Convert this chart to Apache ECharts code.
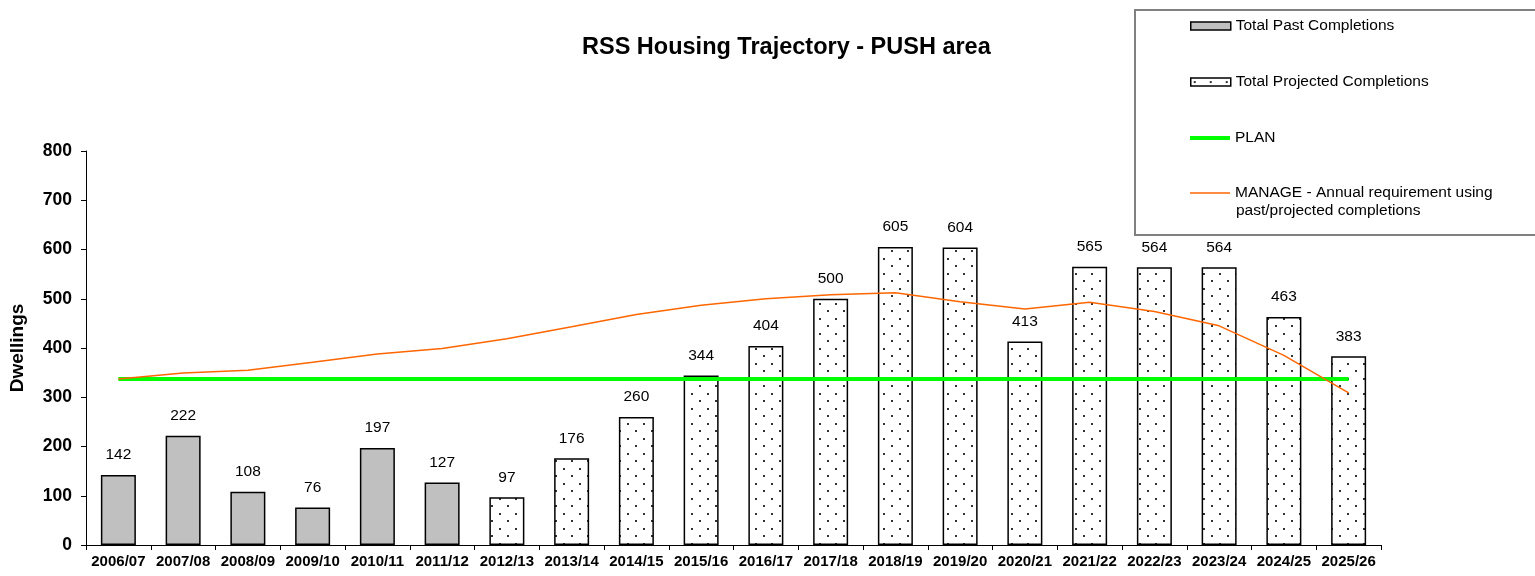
<!DOCTYPE html>
<html>
<head>
<meta charset="utf-8">
<title>RSS Housing Trajectory - PUSH area</title>
<script src="https://cdn.jsdelivr.net/npm/echarts@6/dist/echarts.min.js"></script>
<style>
  html, body { margin: 0; padding: 0; background: #fff; }
  #main { width: 1535px; height: 576px; }
</style>
</head>
<body>
<div id="main"></div>
<script>
// 年度
var categories = ['2006/07','2007/08','2008/09','2009/10','2010/11','2011/12','2012/13','2013/14','2014/15','2015/16',
  '2016/17','2017/18','2018/19','2019/20','2020/21','2021/22','2022/23','2023/24','2024/25','2025/26'];
// 已完成
var pastCompletions = [142, 222, 108, 76, 197, 127, null, null, null, null,
  null, null, null, null, null, null, null, null, null, null];
// 预计完成
var projectedCompletions = [null, null, null, null, null, null, 97, 176, 260, 344,
  404, 500, 605, 604, 413, 565, 564, 564, 463, 383];
// PLAN
var planValues = [337, 337, 337, 337, 337, 337, 337, 337, 337, 337,
  337, 337, 337, 337, 337, 337, 337, 337, 337, 337];
// MANAGE
var manageValues = [337, 349, 355, 371, 388, 399, 419, 443, 468, 487,
  500, 508, 512, 494, 479, 493, 474, 445, 385, 309];
var yTicks = [0, 100, 200, 300, 400, 500, 600, 700, 800];

var FONT = '"Liberation Sans", Arial, sans-serif';
var MANAGE_NAME = 'MANAGE - Annual requirement using past/projected completions';

// 点状填充
function dotPattern() {
  var c = document.createElement('canvas');
  c.width = 16; c.height = 15;
  var ctx = c.getContext('2d');
  ctx.fillStyle = '#fff';
  ctx.fillRect(0, 0, 16, 15);
  ctx.fillStyle = '#333';
  ctx.fillRect(3, 3, 2, 2);
  ctx.fillRect(11, 10, 2, 2);
  return c;
}
var dots = dotPattern();

var chart = echarts.init(document.getElementById('main'));

var labelCfg = {
  show: true, position: 'top', distance: 12,
  color: '#000', fontSize: 15.5, fontFamily: FONT
};

function legendAt(name, top, extra) {
  var l = {
    data: [name],
    left: 1190, top: top,
    padding: 0,
    itemWidth: 40, itemHeight: 8,
    selectedMode: false,
    icon: 'rect',
    textStyle: { color: '#000', fontSize: 15.5, fontFamily: FONT, lineHeight: 20 }
  };
  for (var k in extra) l[k] = extra[k];
  return l;
}

var option = {
  backgroundColor: '#fff',
  animation: false,
  title: {
    text: 'RSS Housing Trajectory - PUSH area',
    left: 577, top: 31,
    textStyle: { fontFamily: FONT, fontWeight: 'bold', fontSize: 23.5, color: '#000' }
  },
  graphic: [{
    type: 'rect', z: 3,
    shape: { x: 1135, y: 10, width: 420, height: 225 },
    style: { fill: '#fff', stroke: '#808080', lineWidth: 2 }
  }, {
    type: 'text', z: 5,
    left: 1236, top: 203,
    style: { text: 'past/projected completions', fill: '#000', font: '15.5px ' + FONT }
  }],
  legend: [
    legendAt('Total Past Completions', 16, { itemStyle: { borderColor: '#000', borderWidth: 1.5 } }),
    legendAt('Total Projected Completions', 72, { itemStyle: { borderColor: '#000', borderWidth: 1.5 } }),
    legendAt('PLAN', 128, { itemHeight: 4 }),
    legendAt(MANAGE_NAME, 183, {
      itemHeight: 1.5,
      formatter: function () { return 'MANAGE - Annual requirement using'; }
    })
  ],
  grid: { left: 86, right: 154, top: 151, bottom: 31 },
  xAxis: {
    type: 'category',
    data: categories,
    axisLine: { lineStyle: { color: '#000', width: 1 } },
    axisTick: { show: true, length: 5, lineStyle: { color: '#000' } },
    axisLabel: { color: '#000', fontFamily: FONT, fontWeight: 'bold', fontSize: 15, margin: 9, interval: 0 }
  },
  yAxis: {
    type: 'value',
    min: yTicks[0], max: yTicks[yTicks.length - 1], interval: 100,
    name: 'Dwellings',
    nameLocation: 'middle',
    nameGap: 59,
    nameTextStyle: { color: '#000', fontFamily: FONT, fontWeight: 'bold', fontSize: 19 },
    axisLine: { show: true, lineStyle: { color: '#000', width: 1 } },
    axisTick: { show: true, length: 5, lineStyle: { color: '#000' } },
    axisLabel: { color: '#000', fontFamily: FONT, fontWeight: 'bold', fontSize: 17.5, margin: 14 },
    splitLine: { show: false }
  },
  series: [
    {
      name: 'Total Past Completions',
      type: 'bar',
      data: pastCompletions,
      barWidth: 35,
      barGap: '-100%',
      itemStyle: { color: '#C0C0C0', borderColor: '#000', borderWidth: 1.5 },
      label: labelCfg
    },
    {
      name: 'Total Projected Completions',
      type: 'bar',
      data: projectedCompletions,
      barWidth: 35,
      barGap: '-100%',
      itemStyle: { color: { image: dots, repeat: 'repeat' }, borderColor: '#000', borderWidth: 1.5 },
      label: labelCfg
    },
    {
      name: 'PLAN',
      type: 'line',
      data: planValues,
      symbol: 'none',
      lineStyle: { color: '#00FF00', width: 4 },
      itemStyle: { color: '#00FF00' },
      z: 3
    },
    {
      name: MANAGE_NAME,
      type: 'line',
      data: manageValues,
      symbol: 'none',
      lineStyle: { color: '#FF6600', width: 1.5 },
      itemStyle: { color: '#FF6600' },
      z: 4
    }
  ]
};
chart.setOption(option);
</script>
</body>
</html>
